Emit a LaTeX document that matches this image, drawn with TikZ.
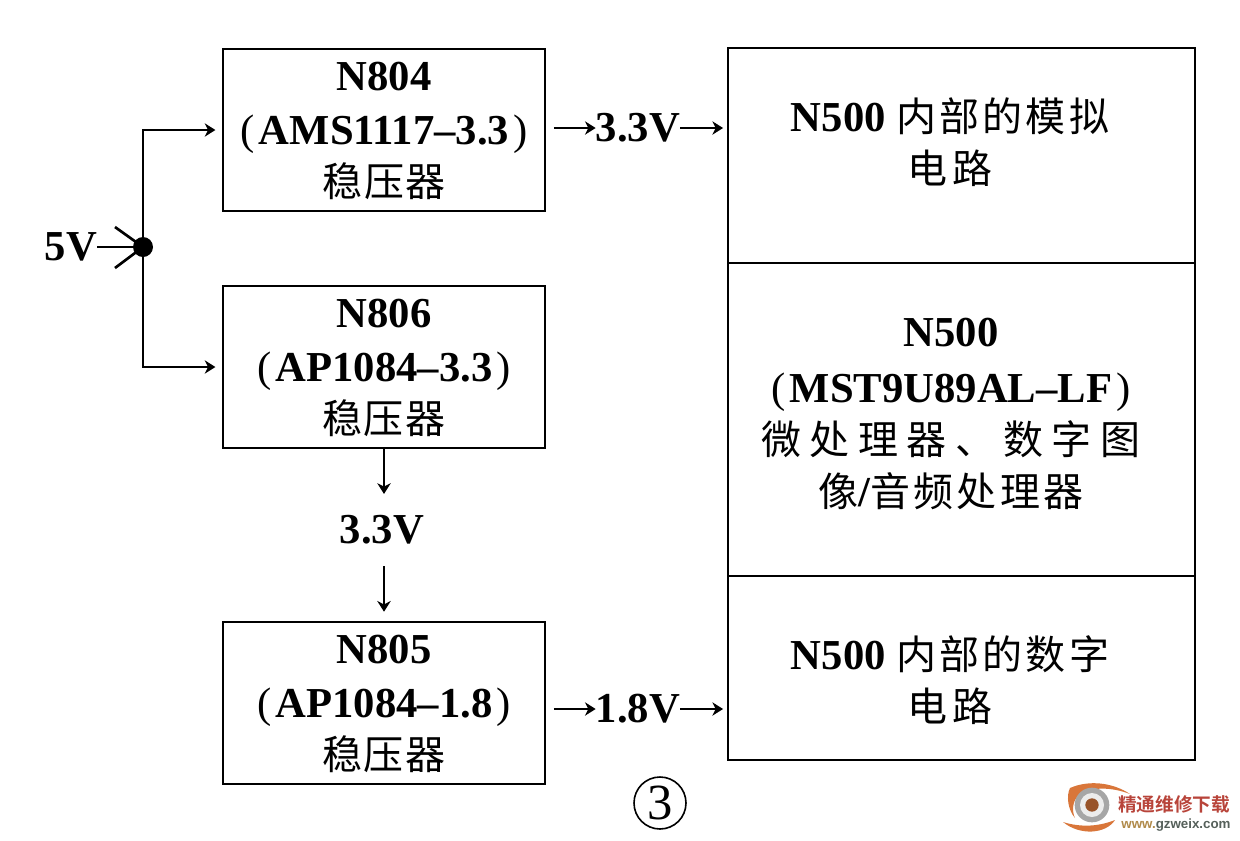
\documentclass[tikz,border=0pt]{standalone}
\usepackage{fontspec}
\setmainfont{Liberation Serif}
\newfontfamily\cjk[LetterSpace=3]{Noto Sans CJK SC}
\newfontfamily\cjkmid[LetterSpace=8]{Noto Sans CJK SC}
\newfontfamily\cjkwide[LetterSpace=12]{Noto Sans CJK SC}
\newfontfamily\cjkxwide[LetterSpace=21]{Noto Sans CJK SC}
\newfontfamily\cjkbold{Noto Sans CJK SC Bold}
\newfontfamily\wmsans{Liberation Sans}
\usetikzlibrary{arrows.meta}
\definecolor{logoorange}{HTML}{D9763A}
\definecolor{logored}{HTML}{B8443A}
\definecolor{logogrey}{HTML}{55605A}
\definecolor{logotan}{HTML}{B08A4A}
\tikzset{
  unit/.style={x=0.75pt,y=-0.75pt},
  box/.style={draw,line width=1.4pt,minimum width=241.5pt,minimum height=121.5pt,inner sep=0pt},
  panel/.style={draw,line width=1.4pt,minimum width=350.25pt,inner sep=0pt},
  lab/.style={align=center,font=\fontsize{32}{39}\selectfont\bfseries,inner sep=0pt},
  volt/.style={font=\fontsize{32}{38}\selectfont\bfseries,inner sep=0pt},
  wire/.style={line width=1.4pt},
  arrow/.style={wire,-{Stealth[length=8pt,width=10pt,inset=2.5pt]}}
}
\newcommand{\cn}[1]{{\cjk\mdseries\fontsize{30}{39}\selectfont #1}}
\newcommand{\cnm}[1]{{\cjkmid\mdseries\fontsize{30}{39}\selectfont #1}}
\newcommand{\cnw}[1]{{\cjkwide\mdseries\fontsize{30}{39}\selectfont #1}}
\newcommand{\cnx}[1]{{\cjkxwide\mdseries\fontsize{30}{39}\selectfont #1}}
\newcommand{\pl}{{\mdseries(}\hspace{3pt}}
\newcommand{\pr}{\hspace{3pt}{\mdseries)}}
\begin{document}
\begin{tikzpicture}[unit]
\useasboundingbox (0,0) rectangle (1240,840);
% left regulators
\node[box] (n804) at (384,130) {};
\node[box] (n806) at (384,367) {};
\node[box] (n805) at (384,703) {};
\node[lab] (t804) at (384,131) {N804\\[2pt]\pl AMS1117--3.3\pr\\\cn{稳压器}};
\node[lab] (t806) at (384,368) {N806\\[2pt]\pl AP1084--3.3\pr\\\cn{稳压器}};
\node[lab] (t805) at (384,704) {N805\\[2pt]\pl AP1084--1.8\pr\\\cn{稳压器}};
% right panels
\node[panel,minimum height=161.25pt] (ana) at (961.5,155.5) {};
\node[panel,minimum height=234.75pt] (mcu) at (961.5,419.5) {};
\node[panel,minimum height=138pt] (dig) at (961.5,668) {};
\node[lab] (tana) at (950,142) {N500 \cnm{内部的模拟}\\\cnw{电路}};
\node[lab] (tmcu) at (951,414) {N500\\[3pt]\pl MST9U89AL--LF\pr\\\cnx{微处理器、数字图}\\\cnm{像}/\cnm{音频处理器}};
\node[lab] (tdig) at (950,680) {N500 \cnm{内部的数字}\\\cnw{电路}};
% voltage labels
\node[volt] (five) at (71,247) {5V};
\node[volt] (v33a) at (638,128) {3.3V};
\node[volt] (v33b) at (382,530) {3.3V};
\node[volt] (v18) at (638,709) {1.8V};
% junction
\node[circle,fill=black,minimum size=15pt,inner sep=0pt] (dot) at (143,247) {};
\coordinate (xa) at (115,227);
\coordinate (xb) at (115,268);
\draw[line width=1pt] (five.east) -- (dot.west);
\draw[line width=2pt] (xa) -- (dot.center);
\draw[line width=2pt] (xb) -- (dot.center);
\draw[arrow] (dot.center) |- ([xshift=-5pt]n804.west);
\draw[arrow] (dot.center) |- ([xshift=-5pt]n806.west);
% verticals
\draw[arrow] (n806.south) -- ([yshift=16pt]n806.south |- v33b.north);
\draw[arrow] ([yshift=-16pt]n805.north |- v33b.south) -- ([yshift=7pt]n805.north);
% horizontals
\draw[arrow,shorten <=6pt] (n804.east |- v33a.west) -- (v33a.west);
\draw[arrow] (v33a.east) -- ([xshift=-3pt]ana.west |- v33a.east);
\draw[arrow,shorten <=6pt] (n805.east |- v18.west) -- (v18.west);
\draw[arrow] (v18.east) -- ([xshift=-3pt]dig.west |- v18.east);
% circled number
\node[circle,draw,line width=1.2pt,minimum size=39pt,inner sep=0pt,font=\fontsize{38}{38}\selectfont] (num) at (660,803) {3};
% watermark
\fill[logoorange] (1070,788) .. controls (1088,780) and (1112,782) .. (1130,794) .. controls (1112,787) and (1090,786) .. (1078,796) .. controls (1072,802) and (1072,812) .. (1075,818) .. controls (1068,810) and (1066,796) .. (1070,788) -- cycle;
\fill[logoorange] (1063,822) .. controls (1082,828) and (1100,826) .. (1115,820) .. controls (1106,834) and (1080,836) .. (1063,822) -- cycle;
\node[circle,fill=gray!70,minimum size=26pt,inner sep=0pt] (eye) at (1092,805) {};
\node[circle,fill=white!85!gray,minimum size=18pt,inner sep=0pt] (eyeb) at (1092,805) {};
\node[circle,fill=logoorange!70!black,minimum size=10pt,inner sep=0pt] (eyec) at (1092,805) {};
\node[inner sep=0pt,text=logored,font=\cjkbold\fontsize{14}{15}\selectfont] (wm1) at (1174,804) {精通维修下载};
\node[inner sep=0pt,text=logogrey,font=\wmsans\bfseries\fontsize{10}{12}\selectfont] (wm2) at (1176,825) {\textcolor{logotan}{www.}gzweix.com};
\end{tikzpicture}
\end{document}
